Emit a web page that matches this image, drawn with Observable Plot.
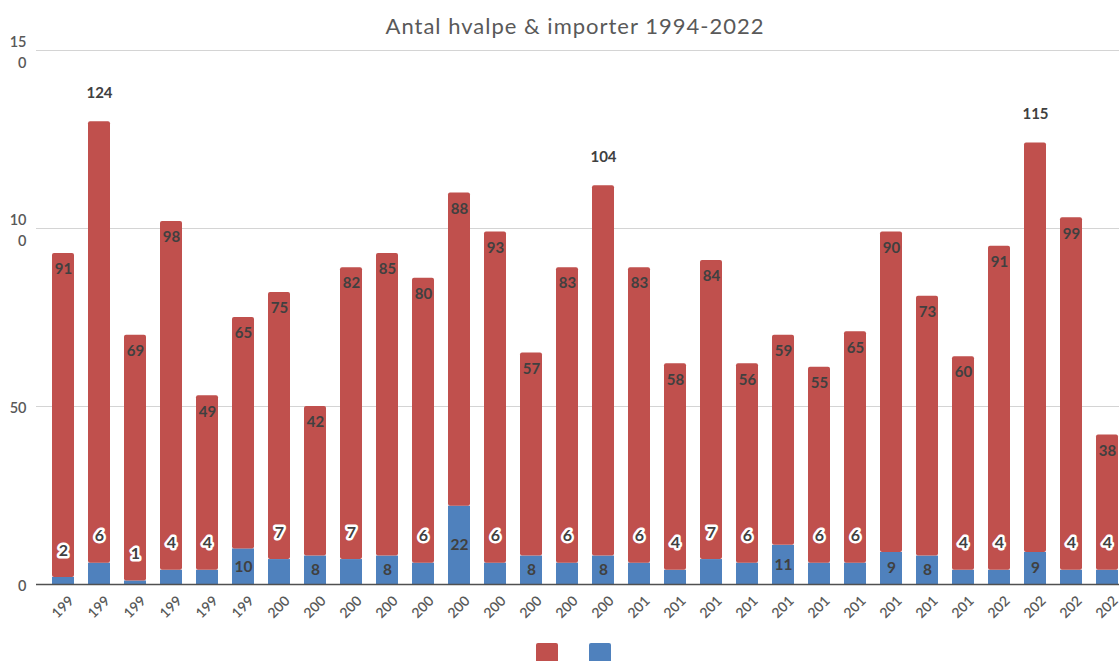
<!DOCTYPE html>
<html>
<head>
<meta charset="utf-8">
<script src="https://cdn.jsdelivr.net/npm/d3@7"></script>
<script src="https://cdn.jsdelivr.net/npm/@observablehq/plot@0.6"></script>
<style>
  html, body { margin: 0; padding: 0; background: #fff; overflow: hidden; }
  body { width: 1119px; height: 661px; font-family: Lato, "Open Sans", sans-serif; }
  #title { height: 36px; box-sizing: border-box; padding-top: 15px; line-height: 22px; font-size: 22px; letter-spacing: 1px; color: #595959; text-align: center; width: 1150px; }
  #chart { width: 1134px; }
  #chart svg { max-width: none !important; }
  #legend { position: relative; height: 25px; }
  #legend span { position: absolute; top: 7px; width: 22px; height: 22px; border-radius: 2px; }
</style>
</head>
<body>
<div id="title">Antal hvalpe &amp; importer 1994-2022</div>
<div id="chart"></div>
<div id="legend"><span style="left:536px;background:#c0504d"></span><span style="left:589px;background:#4f81bd"></span></div>
<script>
const years = ["1994","1995","1996","1997","1998","1999","2000","2001","2002","2003","2004","2005","2006","2007","2008","2009","2010","2011","2012","2013","2014","2015","2016","2017","2018","2019","2020","2021","2022","2023"];
const hvalpe = [91,124,69,98,49,65,75,42,82,85,80,88,93,57,83,104,83,58,84,56,59,55,65,90,73,60,91,115,99,38];
const importer = [2,6,1,4,4,10,7,8,7,8,6,22,6,8,6,8,6,4,7,6,11,6,6,9,8,4,4,9,4,4];
const yTicks = [0, 50, 100, 150];
const yTickLabels = ["0", "50", "10\n0", "15\n0"];
const xTickLabels = years.map(y => y.slice(0, 3));

const red = "#c0504d", blue = "#4f81bd", ink = "#404040", axisInk = "#595959";

const rows = years.map((year, i) => ({year, hvalpe: hvalpe[i], importer: importer[i], total: hvalpe[i] + importer[i], xl: xTickLabels[i]}));

const chart = Plot.plot({
  width: 1134,
  height: 600,
  marginLeft: 36,
  marginRight: 0,
  marginTop: 14,
  marginBottom: 52,
  style: {fontFamily: "Lato, 'Open Sans', sans-serif", background: "white", overflow: "visible", maxWidth: "none"},
  x: {domain: years, padding: 0.38, axis: null},
  y: {domain: [0, 150], axis: null},
  marks: [
    Plot.ruleY(yTicks.filter(d => d > 0), {stroke: "#d4d4d4", strokeWidth: 1.2}),
    Plot.barY(rows, {x: "year", y1: 0, y2: "importer", fill: blue}),
    Plot.barY(rows, {x: "year", y1: "importer", y2: "total", fill: red, rx: 2}),
    Plot.ruleY([0], {stroke: "#505050", strokeWidth: 1.5}),
    // y tick labels
    Plot.text(yTicks, {x: () => years[0], y: d => d, text: (d, i) => yTickLabels[i], frameAnchor: "left", dx: -37, textAnchor: "end", fill: axisInk, fontSize: 14.5, fontWeight: 600, lineHeight: 1.5}),
    // x tick labels
    Plot.text(rows, {x: "year", y: 0, text: "xl", rotate: -45, textAnchor: "end", dx: 8, dy: 14, fill: axisInk, fontSize: 14, fontWeight: 600}),
    // red labels inside
    Plot.text(rows.filter(d => d.hvalpe < 100), {x: "year", y: "total", text: "hvalpe", dy: 16, fill: ink, fontWeight: "bold", fontSize: 15}),
    // red labels above
    Plot.text(rows.filter(d => d.hvalpe >= 100), {x: "year", y: "total", text: "hvalpe", dy: -29, fill: ink, fontWeight: "bold", fontSize: 15}),
    // blue labels with halo
    Plot.text(rows.filter(d => d.importer < 8), {x: "year", y: "importer", text: "importer", dy: -27, fill: ink, stroke: "white", strokeWidth: 5, fontWeight: "bold", fontSize: 16}),
    // blue labels inside
    Plot.text(rows.filter(d => d.importer >= 8), {x: "year", y: d => d.importer / 2, text: "importer", fill: ink, fontWeight: "bold", fontSize: 15.5})
  ]
});
document.getElementById("chart").appendChild(chart);
</script>
</body>
</html>
